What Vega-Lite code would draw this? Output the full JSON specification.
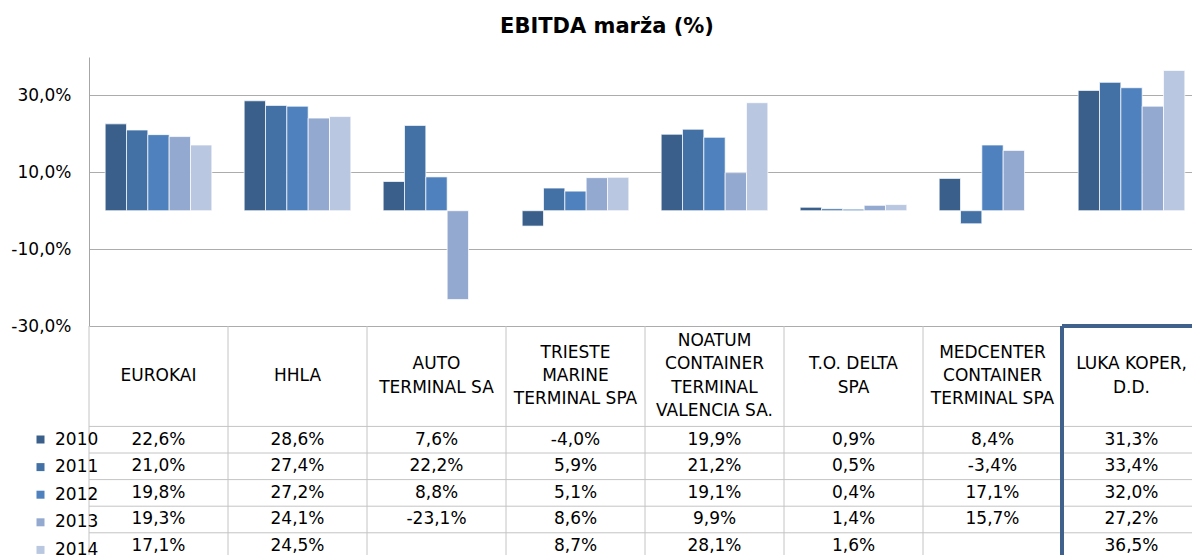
{
  "$schema": "https://vega.github.io/schema/vega-lite/v6.json",
  "padding": {"left": 10, "top": 16, "right": 0, "bottom": 0},
  "title": {"text": "EBITDA marža (%)", "fontSize": 21, "font": "DejaVu Sans", "fontWeight": "bold", "anchor": "middle", "color": "#000000", "offset": 20, "dx": -38},
  "width": 1112,
  "height": 269,
  "datasets": {
    "ebitda": [
      {"company": "EUROKAI", "year": "2010", "v": 22.6},
      {"company": "EUROKAI", "year": "2011", "v": 21.0},
      {"company": "EUROKAI", "year": "2012", "v": 19.8},
      {"company": "EUROKAI", "year": "2013", "v": 19.3},
      {"company": "EUROKAI", "year": "2014", "v": 17.1},
      {"company": "HHLA", "year": "2010", "v": 28.6},
      {"company": "HHLA", "year": "2011", "v": 27.4},
      {"company": "HHLA", "year": "2012", "v": 27.2},
      {"company": "HHLA", "year": "2013", "v": 24.1},
      {"company": "HHLA", "year": "2014", "v": 24.5},
      {"company": "AUTO TERMINAL SA", "year": "2010", "v": 7.6},
      {"company": "AUTO TERMINAL SA", "year": "2011", "v": 22.2},
      {"company": "AUTO TERMINAL SA", "year": "2012", "v": 8.8},
      {"company": "AUTO TERMINAL SA", "year": "2013", "v": -23.1},
      {"company": "TRIESTE MARINE TERMINAL SPA", "year": "2010", "v": -4.0},
      {"company": "TRIESTE MARINE TERMINAL SPA", "year": "2011", "v": 5.9},
      {"company": "TRIESTE MARINE TERMINAL SPA", "year": "2012", "v": 5.1},
      {"company": "TRIESTE MARINE TERMINAL SPA", "year": "2013", "v": 8.6},
      {"company": "TRIESTE MARINE TERMINAL SPA", "year": "2014", "v": 8.7},
      {"company": "NOATUM CONTAINER TERMINAL VALENCIA SA.", "year": "2010", "v": 19.9},
      {"company": "NOATUM CONTAINER TERMINAL VALENCIA SA.", "year": "2011", "v": 21.2},
      {"company": "NOATUM CONTAINER TERMINAL VALENCIA SA.", "year": "2012", "v": 19.1},
      {"company": "NOATUM CONTAINER TERMINAL VALENCIA SA.", "year": "2013", "v": 9.9},
      {"company": "NOATUM CONTAINER TERMINAL VALENCIA SA.", "year": "2014", "v": 28.1},
      {"company": "T.O. DELTA SPA", "year": "2010", "v": 0.9},
      {"company": "T.O. DELTA SPA", "year": "2011", "v": 0.5},
      {"company": "T.O. DELTA SPA", "year": "2012", "v": 0.4},
      {"company": "T.O. DELTA SPA", "year": "2013", "v": 1.4},
      {"company": "T.O. DELTA SPA", "year": "2014", "v": 1.6},
      {"company": "MEDCENTER CONTAINER TERMINAL SPA", "year": "2010", "v": 8.4},
      {"company": "MEDCENTER CONTAINER TERMINAL SPA", "year": "2011", "v": -3.4},
      {"company": "MEDCENTER CONTAINER TERMINAL SPA", "year": "2012", "v": 17.1},
      {"company": "MEDCENTER CONTAINER TERMINAL SPA", "year": "2013", "v": 15.7},
      {"company": "LUKA KOPER, D.D.", "year": "2010", "v": 31.3},
      {"company": "LUKA KOPER, D.D.", "year": "2011", "v": 33.4},
      {"company": "LUKA KOPER, D.D.", "year": "2012", "v": 32.0},
      {"company": "LUKA KOPER, D.D.", "year": "2013", "v": 27.2},
      {"company": "LUKA KOPER, D.D.", "year": "2014", "v": 36.5}
    ],
    "header": [
      {"company": "EUROKAI", "line": "EUROKAI", "k": 0, "n": 1},
      {"company": "HHLA", "line": "HHLA", "k": 0, "n": 1},
      {"company": "AUTO TERMINAL SA", "line": "AUTO", "k": 0, "n": 2},
      {"company": "AUTO TERMINAL SA", "line": "TERMINAL SA", "k": 1, "n": 2},
      {"company": "TRIESTE MARINE TERMINAL SPA", "line": "TRIESTE", "k": 0, "n": 3},
      {"company": "TRIESTE MARINE TERMINAL SPA", "line": "MARINE", "k": 1, "n": 3},
      {"company": "TRIESTE MARINE TERMINAL SPA", "line": "TERMINAL SPA", "k": 2, "n": 3},
      {"company": "NOATUM CONTAINER TERMINAL VALENCIA SA.", "line": "NOATUM", "k": 0, "n": 4},
      {"company": "NOATUM CONTAINER TERMINAL VALENCIA SA.", "line": "CONTAINER", "k": 1, "n": 4},
      {"company": "NOATUM CONTAINER TERMINAL VALENCIA SA.", "line": "TERMINAL", "k": 2, "n": 4},
      {"company": "NOATUM CONTAINER TERMINAL VALENCIA SA.", "line": "VALENCIA SA.", "k": 3, "n": 4},
      {"company": "T.O. DELTA SPA", "line": "T.O. DELTA", "k": 0, "n": 2},
      {"company": "T.O. DELTA SPA", "line": "SPA", "k": 1, "n": 2},
      {"company": "MEDCENTER CONTAINER TERMINAL SPA", "line": "MEDCENTER", "k": 0, "n": 3},
      {"company": "MEDCENTER CONTAINER TERMINAL SPA", "line": "CONTAINER", "k": 1, "n": 3},
      {"company": "MEDCENTER CONTAINER TERMINAL SPA", "line": "TERMINAL SPA", "k": 2, "n": 3},
      {"company": "LUKA KOPER, D.D.", "line": "LUKA KOPER,", "k": 0, "n": 2},
      {"company": "LUKA KOPER, D.D.", "line": "D.D.", "k": 1, "n": 2}
    ]
  },
  "data": {"name": "ebitda"},
  "layer": [
    {"data": {"values": [{}]}, "mark": {"type": "rule", "color": "#c4c4c4", "strokeWidth": 1}, "encoding": {"y": {"datum": -56.13, "type": "quantitative"}}},
    {"data": {"values": [{}]}, "mark": {"type": "rule", "color": "#c4c4c4", "strokeWidth": 1}, "encoding": {"y": {"datum": -63.05, "type": "quantitative"}}},
    {"data": {"values": [{}]}, "mark": {"type": "rule", "color": "#c4c4c4", "strokeWidth": 1}, "encoding": {"y": {"datum": -69.97, "type": "quantitative"}}},
    {"data": {"values": [{}]}, "mark": {"type": "rule", "color": "#c4c4c4", "strokeWidth": 1}, "encoding": {"y": {"datum": -76.89, "type": "quantitative"}}},
    {"data": {"values": [{}]}, "mark": {"type": "rule", "color": "#c4c4c4", "strokeWidth": 1}, "encoding": {"y": {"datum": -83.81, "type": "quantitative"}}},
    {
      "mark": {"type": "bar", "stroke": "#ffffff", "strokeWidth": 1, "strokeOpacity": 0.7},
      "encoding": {
        "x": {"field": "company", "type": "nominal", "axis": null,
              "scale": {"type": "band", "domain": ["EUROKAI", "HHLA", "AUTO TERMINAL SA", "TRIESTE MARINE TERMINAL SPA", "NOATUM CONTAINER TERMINAL VALENCIA SA.", "T.O. DELTA SPA", "MEDCENTER CONTAINER TERMINAL SPA", "LUKA KOPER, D.D."], "paddingInner": 0, "paddingOuter": 0}},
        "xOffset": {"field": "year", "type": "nominal", "scale": {"domain": ["2010", "2011", "2012", "2013", "2014"], "paddingInner": 0, "paddingOuter": 0.758}},
        "y": {"field": "v", "type": "quantitative",
              "scale": {"domain": [-30, 40], "nice": false, "zero": false},
              "axis": {"values": [-30, -20, -10, 0, 10, 20, 30, 40], "format": "$.1f", "title": null, "ticks": false, "labelOverlap": false, "labelPadding": 18, "labelFontSize": 17, "labelColor": "#000000", "labelFont": "DejaVu Sans", "domainColor": "#a6a6a6", "grid": true, "gridColor": "#acacac"}},
        "color": {"field": "year", "type": "nominal",
                  "scale": {"domain": ["2010", "2011", "2012", "2013", "2014"], "range": ["#3A5F8B", "#4371A6", "#4E81BD", "#94A9D0", "#B9C7E1"]},
                  "legend": {"orient": "none", "legendX": -57, "legendY": 374, "title": null, "direction": "vertical",
                             "symbolType": "square", "symbolSize": 64, "symbolStrokeWidth": 0,
                             "labelFont": "DejaVu Sans", "labelFontSize": 17, "labelColor": "#000000", "labelOffset": 6,
                             "rowPadding": 9.6, "padding": 0}}
      }
    },
    {
      "transform": [{"filter": {"field": "year", "equal": "2010"}}],
      "mark": {"type": "rule"},
      "encoding": {
        "x": {"field": "company", "type": "nominal", "bandPosition": 0},
        "y": {"datum": -30, "type": "quantitative"},
        "y2": {"datum": -90.73},
        "color": {"condition": {"test": "datum.company == 'LUKA KOPER, D.D.'", "value": "#3F618C"}, "value": "#c4c4c4"},
        "strokeWidth": {"condition": {"test": "datum.company == 'LUKA KOPER, D.D.'", "value": 4}, "value": 1}
      }
    },
    {
      "transform": [{"filter": {"and": [{"field": "year", "equal": "2010"}, {"field": "company", "equal": "LUKA KOPER, D.D."}]}}],
      "mark": {"type": "bar", "fillOpacity": 0, "stroke": "#3F618C", "strokeWidth": 4},
      "encoding": {
        "x": {"field": "company", "type": "nominal"},
        "y": {"datum": -30, "type": "quantitative"},
        "y2": {"datum": -30}
      }
    },
    {"transform": [{"filter": {"field": "year", "equal": "2010"}}], "mark": {"type": "text", "fontSize": 17, "font": "DejaVu Sans", "color": "#000000", "baseline": "middle", "align": "center"},
     "encoding": {"x": {"field": "company", "type": "nominal"}, "y": {"datum": -59.59, "type": "quantitative"}, "text": {"field": "v", "type": "quantitative", "format": "$.1f"}}},
    {"transform": [{"filter": {"field": "year", "equal": "2011"}}], "mark": {"type": "text", "fontSize": 17, "font": "DejaVu Sans", "color": "#000000", "baseline": "middle", "align": "center"},
     "encoding": {"x": {"field": "company", "type": "nominal"}, "y": {"datum": -66.51, "type": "quantitative"}, "text": {"field": "v", "type": "quantitative", "format": "$.1f"}}},
    {"transform": [{"filter": {"field": "year", "equal": "2012"}}], "mark": {"type": "text", "fontSize": 17, "font": "DejaVu Sans", "color": "#000000", "baseline": "middle", "align": "center"},
     "encoding": {"x": {"field": "company", "type": "nominal"}, "y": {"datum": -73.43, "type": "quantitative"}, "text": {"field": "v", "type": "quantitative", "format": "$.1f"}}},
    {"transform": [{"filter": {"field": "year", "equal": "2013"}}], "mark": {"type": "text", "fontSize": 17, "font": "DejaVu Sans", "color": "#000000", "baseline": "middle", "align": "center"},
     "encoding": {"x": {"field": "company", "type": "nominal"}, "y": {"datum": -80.35, "type": "quantitative"}, "text": {"field": "v", "type": "quantitative", "format": "$.1f"}}},
    {"transform": [{"filter": {"field": "year", "equal": "2014"}}], "mark": {"type": "text", "fontSize": 17, "font": "DejaVu Sans", "color": "#000000", "baseline": "middle", "align": "center"},
     "encoding": {"x": {"field": "company", "type": "nominal"}, "y": {"datum": -87.28, "type": "quantitative"}, "text": {"field": "v", "type": "quantitative", "format": "$.1f"}}},
    {"data": {"name": "header"}, "transform": [{"filter": "2 * datum.k - datum.n + 1 == -3"}], "mark": {"type": "text", "fontSize": 17, "font": "DejaVu Sans", "color": "#000000", "baseline": "middle", "align": "center"},
     "encoding": {"x": {"field": "company", "type": "nominal"}, "y": {"datum": -33.9, "type": "quantitative"}, "text": {"field": "line"}}},
    {"data": {"name": "header"}, "transform": [{"filter": "2 * datum.k - datum.n + 1 == -2"}], "mark": {"type": "text", "fontSize": 17, "font": "DejaVu Sans", "color": "#000000", "baseline": "middle", "align": "center"},
     "encoding": {"x": {"field": "company", "type": "nominal"}, "y": {"datum": -36.94, "type": "quantitative"}, "text": {"field": "line"}}},
    {"data": {"name": "header"}, "transform": [{"filter": "2 * datum.k - datum.n + 1 == -1"}], "mark": {"type": "text", "fontSize": 17, "font": "DejaVu Sans", "color": "#000000", "baseline": "middle", "align": "center"},
     "encoding": {"x": {"field": "company", "type": "nominal"}, "y": {"datum": -39.97, "type": "quantitative"}, "text": {"field": "line"}}},
    {"data": {"name": "header"}, "transform": [{"filter": "2 * datum.k - datum.n + 1 == 0"}], "mark": {"type": "text", "fontSize": 17, "font": "DejaVu Sans", "color": "#000000", "baseline": "middle", "align": "center"},
     "encoding": {"x": {"field": "company", "type": "nominal"}, "y": {"datum": -43.0, "type": "quantitative"}, "text": {"field": "line"}}},
    {"data": {"name": "header"}, "transform": [{"filter": "2 * datum.k - datum.n + 1 == 1"}], "mark": {"type": "text", "fontSize": 17, "font": "DejaVu Sans", "color": "#000000", "baseline": "middle", "align": "center"},
     "encoding": {"x": {"field": "company", "type": "nominal"}, "y": {"datum": -46.03, "type": "quantitative"}, "text": {"field": "line"}}},
    {"data": {"name": "header"}, "transform": [{"filter": "2 * datum.k - datum.n + 1 == 2"}], "mark": {"type": "text", "fontSize": 17, "font": "DejaVu Sans", "color": "#000000", "baseline": "middle", "align": "center"},
     "encoding": {"x": {"field": "company", "type": "nominal"}, "y": {"datum": -49.06, "type": "quantitative"}, "text": {"field": "line"}}},
    {"data": {"name": "header"}, "transform": [{"filter": "2 * datum.k - datum.n + 1 == 3"}], "mark": {"type": "text", "fontSize": 17, "font": "DejaVu Sans", "color": "#000000", "baseline": "middle", "align": "center"},
     "encoding": {"x": {"field": "company", "type": "nominal"}, "y": {"datum": -52.1, "type": "quantitative"}, "text": {"field": "line"}}}
  ],
  "config": {
    "view": {"stroke": null},
    "font": "DejaVu Sans",
    "locale": {"number": {"decimal": ",", "thousands": ".", "grouping": [3], "currency": ["", "%"], "minus": "-"}}
  }
}
